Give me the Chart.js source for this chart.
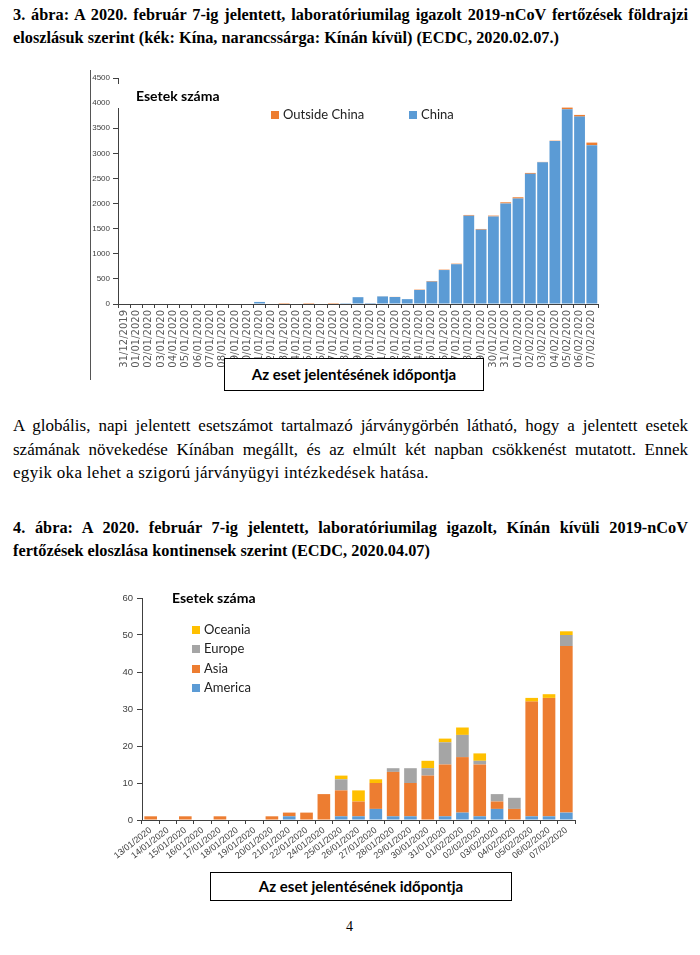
<!DOCTYPE html>
<html><head><meta charset="utf-8">
<script src="https://cdn.jsdelivr.net/npm/chart.js@4/dist/chart.umd.min.js"></script>
<style>
html,body{margin:0;padding:0;background:#fff}
body{width:700px;height:955px;position:relative;overflow:hidden;color:#000}
.a{position:absolute}
.ln{position:absolute;left:13px;width:675px;line-height:20px;white-space:nowrap;font-family:"Liberation Serif","Times New Roman",Times,Tinos,"DejaVu Serif",serif}
.jl{text-align:justify;text-align-last:justify;white-space:normal}
.hb{font-weight:bold;font-size:16.3px}
.tx{font-size:17px}
.lab{font-family:Lato,"Liberation Sans",sans-serif;font-weight:bold;font-size:14px;line-height:18px;color:#000}
.leg{font-family:Lato,"Liberation Sans",sans-serif;font-size:13px;line-height:16px;color:#222;white-space:nowrap}
.sq{display:inline-block;width:8px;height:8px;margin-right:4px;vertical-align:0px}
.box{position:absolute;border:1.5px solid #000;background:#fff;box-sizing:border-box;font-family:Lato,"Liberation Sans",sans-serif;font-weight:bold;font-size:15px;text-align:center}
.pn{font-family:"Liberation Serif","Times New Roman",serif;font-size:14px}
</style></head>
<body>
<div class="ln hb jl" style="top:5px">3. ábra: A 2020. február 7-ig jelentett, laboratóriumilag igazolt 2019-nCoV fertőzések földrajzi</div>
<div class="ln hb" style="top:28px">eloszlásuk szerint (kék: Kína, narancssárga: Kínán kívül) (ECDC, 2020.02.07.)</div>

<div class="a" style="left:90px;top:70px;width:1px;height:310px;background:#555"></div>
<canvas id="c1" class="a" width="530" height="320" style="left:85px;top:65px"></canvas>
<div class="a lab" style="left:112px;top:84px;width:130px;height:24px;background:#fff"><span style="position:absolute;left:24px;top:3px">Esetek száma</span></div>
<div class="a leg" style="left:271px;top:106px"><span class="sq" style="background:#ED7D31"></span>Outside China</div>
<div class="a leg" style="left:409px;top:106px"><span class="sq" style="background:#5B9BD5"></span>China</div>
<div class="box" style="left:224px;top:358px;width:260px;height:33px;line-height:30px">Az eset jelentésének időpontja</div>

<div class="ln tx jl" style="top:416px">A globális, napi jelentett esetszámot tartalmazó járványgörbén látható, hogy a jelentett esetek</div>
<div class="ln tx jl" style="top:440px">számának növekedése Kínában megállt, és az elmúlt két napban csökkenést mutatott. Ennek</div>
<div class="ln tx" style="top:463px;letter-spacing:0.3px">egyik oka lehet a szigorú járványügyi intézkedések hatása.</div>

<div class="ln hb jl" style="top:518px">4. ábra: A 2020. február 7-ig jelentett, laboratóriumilag igazolt, Kínán kívüli 2019-nCoV</div>
<div class="ln hb" style="top:541px">fertőzések eloszlása kontinensek szerint (ECDC, 2020.04.07)</div>

<canvas id="c2" class="a" width="490" height="290" style="left:100px;top:585px"></canvas>
<div class="a lab" style="left:172px;top:589px">Esetek száma</div>
<div class="a leg" style="left:192px;top:621px"><span class="sq" style="background:#FFC000"></span>Oceania</div>
<div class="a leg" style="left:192px;top:640px"><span class="sq" style="background:#A5A5A5"></span>Europe</div>
<div class="a leg" style="left:192px;top:660px"><span class="sq" style="background:#ED7D31"></span>Asia</div>
<div class="a leg" style="left:192px;top:679px"><span class="sq" style="background:#5B9BD5"></span>America</div>
<div class="box" style="left:210px;top:872px;width:302px;height:29px;line-height:26px">Az eset jelentésének időpontja</div>

<div class="a pn" style="left:346px;top:919px">4</div>

<script>
// ---- Chart 1 data ----
const dates1 = ['31/12/2019','01/01/2020','02/01/2020','03/01/2020','04/01/2020','05/01/2020','06/01/2020','07/01/2020','08/01/2020','09/01/2020','10/01/2020','11/01/2020','12/01/2020','13/01/2020','14/01/2020','15/01/2020','16/01/2020','17/01/2020','18/01/2020','19/01/2020','20/01/2020','21/01/2020','22/01/2020','23/01/2020','24/01/2020','25/01/2020','26/01/2020','27/01/2020','28/01/2020','29/01/2020','30/01/2020','31/01/2020','01/02/2020','02/02/2020','03/02/2020','04/02/2020','05/02/2020','06/02/2020','07/02/2020'];
const chinaCases = [0,0,0,0,0,0,0,0,0,0,0,41,0,0,0,0,0,0,17,136,19,151,140,97,279,446,676,792,1759,1480,1744,2003,2100,2592,2822,3248,3878,3731,3163];
const outsideCases = [0,0,0,0,0,0,0,0,0,0,0,0,0,1,0,1,0,1,0,0,1,2,2,0,7,12,8,11,14,14,16,22,25,18,7,6,33,34,51];
const yTicks1 = [0,500,1000,1500,2000,2500,3000,3500,4000,4500];

// ---- Chart 2 data ----
const dates2 = ['13/01/2020','14/01/2020','15/01/2020','16/01/2020','17/01/2020','18/01/2020','19/01/2020','20/01/2020','21/01/2020','22/01/2020','24/01/2020','25/01/2020','26/01/2020','27/01/2020','28/01/2020','29/01/2020','30/01/2020','31/01/2020','01/02/2020','02/02/2020','03/02/2020','04/02/2020','05/02/2020','06/02/2020','07/02/2020'];
const america = [0,0,0,0,0,0,0,0,1,0,0,1,1,3,1,1,0,1,2,1,3,0,1,1,2];
const asia    = [1,0,1,0,1,0,0,1,1,2,7,7,4,7,12,9,12,14,15,14,2,3,31,32,45];
const europe  = [0,0,0,0,0,0,0,0,0,0,0,3,0,0,1,4,2,6,6,1,2,3,0,0,3];
const oceania = [0,0,0,0,0,0,0,0,0,0,0,1,3,1,0,0,2,1,2,2,0,0,1,1,1];
const yTicks2 = [0,10,20,30,40,50,60];

const axisCol = '#404040';
const plain = v => String(v);

new Chart(document.getElementById('c1'), {
  type: 'bar',
  data: {
    labels: dates1,
    datasets: [
      {label: 'China', data: chinaCases, backgroundColor: '#5B9BD5', barPercentage: 0.88, categoryPercentage: 1},
      {label: 'Outside China', data: outsideCases, backgroundColor: '#ED7D31', barPercentage: 0.88, categoryPercentage: 1}
    ]
  },
  options: {
    responsive: false, animation: false,
    layout: {padding: {left: 0, right: 17, top: 13, bottom: 0}},
    plugins: {legend: {display: false}, tooltip: {enabled: false}},
    scales: {
      x: {
        stacked: true,
        grid: {drawOnChartArea: false, tickLength: 4, color: axisCol, offset: true},
        border: {color: axisCol},
        ticks: {autoSkip: false, minRotation: 90, maxRotation: 90, padding: 2, color: '#5a5a5a', font: {family: 'DejaVu Sans', size: 10}},
        afterFit(s) { s.height = 81; }
      },
      y: {
        stacked: true, min: 0, max: 4500,
        afterBuildTicks(s) { s.ticks = yTicks1.map(v => ({value: v})); },
        grid: {drawOnChartArea: false, tickLength: 5, color: axisCol},
        border: {color: axisCol},
        ticks: {padding: 3, color: axisCol, callback: plain, font: {family: 'Liberation Sans', size: 8}},
        afterFit(s) { s.width = 33; }
      }
    }
  }
});

new Chart(document.getElementById('c2'), {
  type: 'bar',
  data: {
    labels: dates2,
    datasets: [
      {label: 'America', data: america, backgroundColor: '#5B9BD5', barPercentage: 0.73, categoryPercentage: 1},
      {label: 'Asia', data: asia, backgroundColor: '#ED7D31', barPercentage: 0.73, categoryPercentage: 1},
      {label: 'Europe', data: europe, backgroundColor: '#A5A5A5', barPercentage: 0.73, categoryPercentage: 1},
      {label: 'Oceania', data: oceania, backgroundColor: '#FFC000', barPercentage: 0.73, categoryPercentage: 1}
    ]
  },
  options: {
    responsive: false, animation: false,
    layout: {padding: {left: 0, right: 15, top: 13, bottom: 0}},
    plugins: {legend: {display: false}, tooltip: {enabled: false}},
    scales: {
      x: {
        stacked: true,
        grid: {drawOnChartArea: false, tickLength: 4, color: axisCol, offset: true},
        border: {color: axisCol},
        ticks: {autoSkip: false, minRotation: 38, maxRotation: 38, padding: 1, color: axisCol, font: {family: 'Liberation Sans', size: 9}},
        afterFit(s) { s.height = 55; }
      },
      y: {
        stacked: true, min: 0, max: 60,
        afterBuildTicks(s) { s.ticks = yTicks2.map(v => ({value: v})); },
        grid: {drawOnChartArea: false, tickLength: 5, color: axisCol},
        border: {color: axisCol},
        ticks: {padding: 4, color: axisCol, callback: plain, font: {family: 'Liberation Sans', size: 9.5}},
        afterFit(s) { s.width = 42; }
      }
    }
  }
});
</script>
</body></html>
